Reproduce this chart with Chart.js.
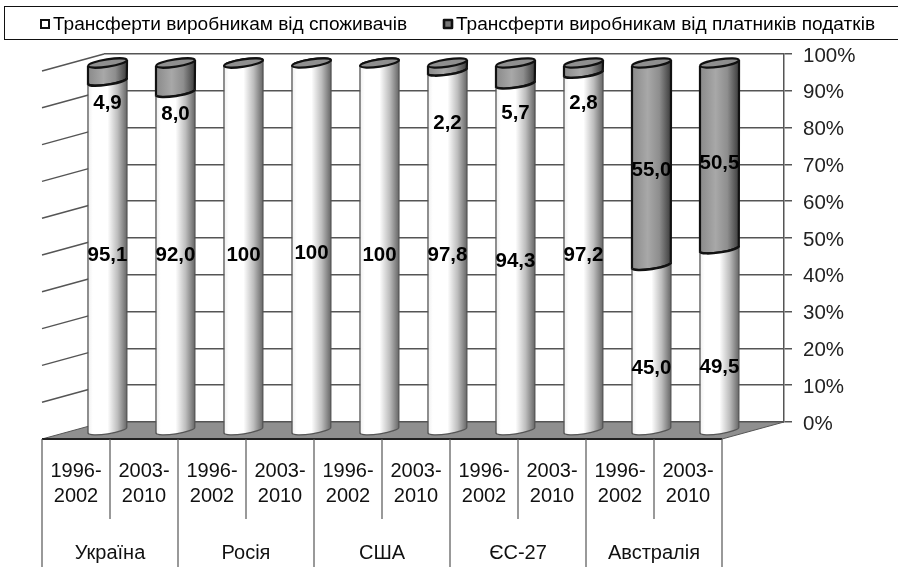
<!DOCTYPE html>
<html><head><meta charset="utf-8">
<script src="https://cdn.jsdelivr.net/npm/chart.js@4/dist/chart.umd.js"></script>
<style>html,body{margin:0;padding:0;background:#fff}#w{width:898px;height:567px}</style>
</head><body><div id="w"><canvas id="c"></canvas></div>
<script>
const periods = ['1996-2002','2003-2010','1996-2002','2003-2010','1996-2002','2003-2010','1996-2002','2003-2010','1996-2002','2003-2010'];
const countries = ['Україна','Росія','США','ЄС-27','Австралія'];
const consumers = [95.1,92.0,100,100,100,97.8,94.3,97.2,45.0,49.5];
const taxpayers = [4.9,8.0,0,0,0,2.2,5.7,2.8,55.0,50.5];
const seriesNames = ['Трансферти виробникам від споживачів','Трансферти виробникам від платників податків'];
const consumerLabelNudge = [-1,-7,8,6,8,4,3,3,20,27];
const taxpayerLabelNudge = [30,36,0,0,0,55,39,34,5,6];

const LINE='#555555', FLOOR='#8f8f8f';
const FRONT={dx:-62,dy:17}, MID={dx:-30.5,dy:9};
const FONT='"Liberation Sans", Arial, sans-serif';

class CylinderBar extends Chart.BarElement {
  static id='cylinderBar';
  static defaults=Chart.BarElement.defaults;
  draw(ctx){
    const {x,y,base,width}=this.getProps(['x','y','base','width']);
    const i=this.pointIndex, d=this.seriesIndex;
    const cx=x+MID.dx, rx=width/2, top=y+MID.dy, bot=base+MID.dy, ry=3.6, tilt=-0.15;
    const dark=d===1;
    const l=cx-rx, r=cx+rx;
    const edgeL=Math.sin(-tilt)*rx, h=bot-top;
    if(h>0.1){
      const g=ctx.createLinearGradient(l,0,r,0);
      if(dark){g.addColorStop(0,'#8a8a8a');g.addColorStop(.4,'#a8a8a8');g.addColorStop(.7,'#8e8e8e');g.addColorStop(1,'#3c3c3c');}
      else{g.addColorStop(0,'#efefef');g.addColorStop(.12,'#ffffff');g.addColorStop(.5,'#ffffff');g.addColorStop(.76,'#bdbdbd');g.addColorStop(1,'#666666');}
      ctx.save();
      ctx.beginPath();
      ctx.ellipse(cx,bot,rx,ry,tilt,Math.PI,0,true);
      ctx.lineTo(r,top-edgeL);
      ctx.ellipse(cx,top,rx,ry,tilt,0,Math.PI,!!dark);
      ctx.closePath();
      ctx.fillStyle=g;ctx.fill();
      ctx.beginPath();
      ctx.moveTo(l,top+edgeL);
      ctx.lineTo(l,bot+edgeL);
      ctx.ellipse(cx,bot,rx,ry,tilt,Math.PI,0,true);
      ctx.lineTo(r,top-edgeL);
      ctx.strokeStyle=dark?'#111111':'#555555';
      ctx.lineWidth=dark?2.2:1.3;
      ctx.stroke();
      if(!dark && taxpayers[i]>0){
        ctx.beginPath();
        ctx.ellipse(cx,top,rx,ry,tilt,Math.PI,0,true);
        ctx.strokeStyle='#111111';ctx.lineWidth=2.4;ctx.stroke();
      }
      ctx.restore();
    }
    if(dark || (d===0 && !taxpayers[i])){
      ctx.save();
      ctx.beginPath();
      ctx.ellipse(cx,top,rx,ry,tilt,0,Math.PI*2);
      ctx.fillStyle='#8f8f8f';ctx.fill();
      ctx.strokeStyle='#111111';ctx.lineWidth=2.2;ctx.stroke();
      ctx.restore();
    }
  }
}
class CylinderController extends Chart.BarController {
  static id='cylinder';
  static defaults={...Chart.BarController.defaults,dataElementType:'cylinderBar'};
  static overrides=Chart.BarController.overrides;
  updateElements(rects,start,count,mode){
    super.updateElements(rects,start,count,mode);
    for(let k=start;k<start+count;k++){rects[k].pointIndex=k;rects[k].seriesIndex=this.index;}
  }
}
Chart.register(CylinderBar,CylinderController);

const fmt=v=>v===100?'100':v.toFixed(1).replace('.',',');

const scene={
  id:'scene',
  beforeDatasetsDraw(chart){
    const {ctx,chartArea:a,scales:{y}}=chart;
    const y0=y.getPixelForValue(0);
    ctx.save();
    ctx.strokeStyle=LINE;ctx.lineWidth=1.5;
    y.ticks.forEach(t=>{
      if(t.value===0)return;
      const p=y.getPixelForValue(t.value);
      ctx.beginPath();ctx.moveTo(a.left,p);ctx.lineTo(a.left+FRONT.dx,p+FRONT.dy);ctx.stroke();
    });
    ctx.beginPath();
    ctx.moveTo(a.left+FRONT.dx,y0+FRONT.dy);
    ctx.lineTo(a.left,y0);ctx.lineTo(a.right,y0);
    ctx.lineTo(a.right+FRONT.dx,y0+FRONT.dy);ctx.closePath();
    ctx.fillStyle=FLOOR;ctx.fill();
    ctx.strokeStyle='#555555';ctx.lineWidth=1;ctx.stroke();
    ctx.beginPath();
    ctx.moveTo(a.left+FRONT.dx,y0+FRONT.dy);ctx.lineTo(a.right+FRONT.dx,y0+FRONT.dy);
    ctx.strokeStyle='#222222';ctx.lineWidth=2;ctx.stroke();
    ctx.restore();
  },
  afterDatasetsDraw(chart){
    const {ctx}=chart;
    ctx.save();
    ctx.font='bold 20.5px '+FONT;ctx.fillStyle='#000';ctx.textAlign='center';ctx.textBaseline='middle';
    [[consumers,consumerLabelNudge],[taxpayers,taxpayerLabelNudge]].forEach((s,d)=>{
      chart.getDatasetMeta(d).data.forEach((el,i)=>{
        if(!s[0][i])return;
        ctx.fillText(fmt(s[0][i]),el.x+MID.dx,(el.y+el.base)/2+MID.dy+s[1][i]+1);
      });
    });
    ctx.restore();
  },
  afterDraw(chart){
    const {ctx,scales:{x,y}}=chart;
    const y0=y.getPixelForValue(0)+FRONT.dy, W=chart.width;
    const step=x.getPixelForValue(1)-x.getPixelForValue(0);
    ctx.save();
    ctx.strokeStyle=LINE;ctx.lineWidth=1.2;ctx.fillStyle='#111';
    ctx.font='20px '+FONT;ctx.textAlign='center';ctx.textBaseline='middle';
    periods.forEach((p,i)=>{
      const c=x.getPixelForValue(i)+FRONT.dx;
      const [a1,a2]=p.split('-');
      ctx.fillText(a1+'-',c,y0+32);
      ctx.fillText(a2,c,y0+57);
      const lx=c-step/2;
      ctx.beginPath();ctx.moveTo(lx,y0);ctx.lineTo(lx,i%2?y0+80:567);ctx.stroke();
    });
    const rx=x.getPixelForValue(9)+FRONT.dx+step/2;
    ctx.beginPath();ctx.moveTo(rx,y0);ctx.lineTo(rx,567);ctx.stroke();
    countries.forEach((n,i)=>{
      const c=x.getPixelForValue(i*2)+FRONT.dx+step/2;
      ctx.fillText(n,c,y0+114);
    });
    // legend
    ctx.strokeStyle='#111';ctx.lineWidth=1;
    ctx.strokeRect(4.5,6.5,W,33);
    ctx.font='19.1px '+FONT;ctx.textAlign='left';ctx.fillStyle='#000';
    ctx.fillText(seriesNames[0],53,25);
    ctx.fillText(seriesNames[1],456,25);
    ctx.lineWidth=2;ctx.strokeStyle='#111';
    ctx.fillStyle='#fff';ctx.fillRect(41,20,8,8);ctx.strokeRect(41,20,8,8);
    ctx.fillStyle='#777';ctx.lineJoin='round';ctx.lineWidth=2.6;ctx.fillRect(444,20,8,8);ctx.strokeRect(444,20,8,8);
    ctx.restore();
  }
};

new Chart(document.getElementById('c'),{
  type:'cylinder',
  data:{labels:periods,datasets:[
    {label:seriesNames[0],data:consumers,backgroundColor:'#ffffff',borderColor:'#555555',clip:false},
    {label:seriesNames[1],data:taxpayers,backgroundColor:'#8f8f8f',borderColor:'#111111',clip:false}
  ]},
  plugins:[scene],
  options:{
    responsive:true,maintainAspectRatio:false,animation:false,
    layout:{padding:{left:104,top:54,bottom:145,right:0}},
    datasets:{cylinder:{barPercentage:0.574,categoryPercentage:1}},
    plugins:{legend:{display:false},tooltip:{enabled:false},title:{display:false}},
    scales:{
      x:{stacked:true,display:false,grid:{display:false}},
      y:{stacked:true,position:'right',min:0,max:100,
        afterFit(s){s.width=114;},
        ticks:{stepSize:10,padding:11,labelOffset:2,color:'#222',font:{family:FONT,size:20.5},callback:v=>v+'%'},
        grid:{color:LINE,lineWidth:1.5,tickLength:8,tickColor:LINE},
        border:{display:true,color:LINE,width:1.5}}
    }
  }
});
</script></body></html>
